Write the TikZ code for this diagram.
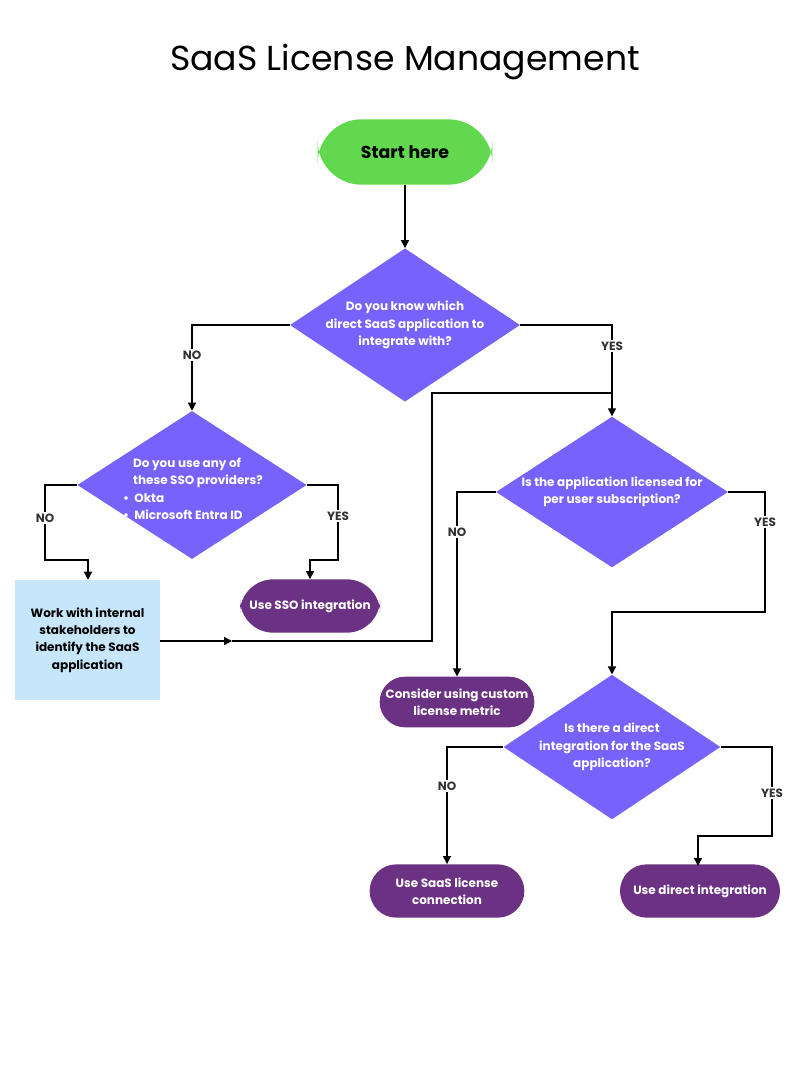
\documentclass[tikz,border=0pt]{standalone}
\usepackage{fontspec}
\setmainfont{Poppins}
\usetikzlibrary{shapes.geometric,arrows.meta}
\definecolor{dia}{HTML}{7763FB}
\definecolor{pill}{HTML}{6B3182}
\definecolor{grn}{HTML}{62D84E}
\definecolor{lb}{HTML}{C6E6FB}
\begin{document}
\begin{tikzpicture}[x=0.75pt,y=-0.75pt,
 dec/.style={diamond,fill=dia,text=white,font=\fontsize{9}{13}\selectfont\bfseries,align=center,inner sep=0pt,aspect=1.5},
 pl/.style={rounded corners=25pt,fill=pill,text=white,font=\fontsize{9}{13}\selectfont\bfseries,align=center,inner sep=0pt},
 ln/.style={line width=1pt,black},
 ar/.style={ln,-{Triangle[length=6pt,width=6pt]}},
 lab/.style={font=\fontsize{9}{11}\selectfont\bfseries,text=black!80,fill=white,inner sep=1pt}]
\useasboundingbox (0,0) rectangle (800,1067);
\node[font=\fontsize{26}{30}\selectfont] (title) at (405,62) {SaaS License Management};
\node[rounded corners=33pt,fill=grn,minimum width=131pt,minimum height=49pt,font=\fontsize{13}{15}\selectfont\bfseries] (start) at (405,152) {Start here};
\node[dec,minimum width=170pt,minimum height=111pt] (d1) at (405,325) {Do you know which\\direct SaaS application to\\integrate with?};
\node[dec,minimum width=172pt,minimum height=111pt] (d2) at (192,485) {};
\node[text=white,font=\fontsize{9}{13}\selectfont\bfseries,align=left] (d2t) at (192,489) {\hspace*{1em}Do you use any of\\\hspace*{1em}these SSO providers?\\\,•\ \ Okta\\\,•\ \ Microsoft Entra ID};
\node[dec,minimum width=174pt,minimum height=108pt] (d3) at (612,492) {Is the application licensed for\\per user subscription?};
\node[dec,minimum width=159pt,minimum height=93pt] (d4) at (612,747) {Is there a direct\\integration for the SaaS\\application?};
\node[pl,minimum width=105pt,minimum height=40pt] (sso) at (310,606) {Use SSO integration};
\node[fill=lb,minimum width=109pt,minimum height=90pt,font=\fontsize{9}{13}\selectfont\bfseries,align=center] (box) at (87.5,640) {Work with internal\\stakeholders to\\identify the SaaS\\application};
\node[pl,minimum width=116pt,minimum height=38pt,rounded corners=19pt] (cust) at (457,702) {Consider using custom\\license metric};
\node[pl,minimum width=116pt,minimum height=40pt,rounded corners=20pt] (slc) at (447,891) {Use SaaS license\\connection};
\node[pl,minimum width=120pt,minimum height=40pt,rounded corners=20pt] (dir) at (700,891) {Use direct integration};
\draw[ar] (start) -- (d1);
\draw[ar] (d1.west) -- (192,325) -- (d2.north);
\draw[ar] (d1.east) -- (612,325) -- (d3.north);
\draw[ar] (d2.west) -- (45,485) -- (45,560) -- (88,560) -- (box.north -| 88,0);
\draw[ar] (d2.east) -- (338,485) -- (338,560) -- (310,560) -- (sso.north);
\coordinate (m) at (232,641);
\draw[ar] (box.east |- 0,641) -- (m);
\draw[ln] (m) -- (432,641) -- (432,393) -- (612,393);
\draw[ar] (d3.west) -- (457,492) -- (cust.north);
\draw[ar] (d3.east) -- (765,492) -- (765,612) -- (612,612) -- (d4.north);
\draw[ar] (d4.west) -- (447,747) -- (slc.north);
\draw[ar] (d4.east) -- (772,747) -- (772,836) -- (698,836) -- (698,866);
\node[lab] (n1) at (192,355) {NO};
\node[lab] (y1) at (612,346) {YES};
\node[lab] (n2) at (45,518) {NO};
\node[lab] (y2) at (338,516) {YES};
\node[lab] (n3) at (457,532) {NO};
\node[lab] (y3) at (765,522) {YES};
\node[lab] (n4) at (447,786) {NO};
\node[lab] (y4) at (772,793) {YES};
\end{tikzpicture}
\end{document}
